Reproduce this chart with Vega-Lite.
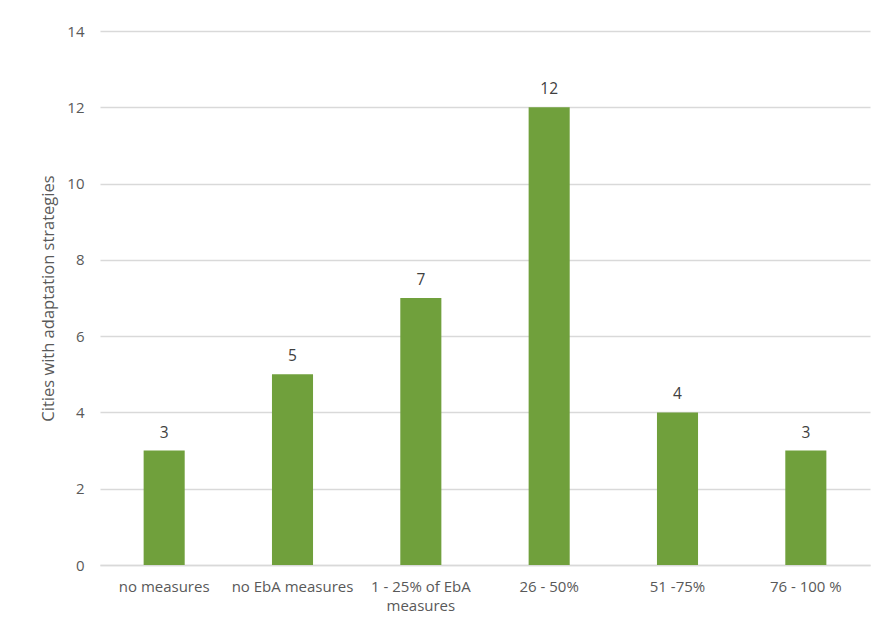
{
  "$schema": "https://vega.github.io/schema/vega-lite/v6.json",
  "width": 770,
  "height": 534,
  "autosize": "none",
  "padding": {"left": 100, "top": 31, "right": 9, "bottom": 65},
  "background": "white",
  "config": {
    "view": {"stroke": null},
    "font": "Open Sans",
    "axis": {"labelFont": "Open Sans", "titleFont": "Open Sans", "labelColor": "#595959", "titleColor": "#595959"}
  },
  "data": {
    "values": [
      {"category": "no measures", "cities": 3},
      {"category": "no EbA measures", "cities": 5},
      {"category": "1 - 25% of EbA measures", "cities": 7},
      {"category": "26 - 50%", "cities": 12},
      {"category": "51 -75%", "cities": 4},
      {"category": "76 - 100 %", "cities": 3}
    ]
  },
  "encoding": {
    "x": {
      "field": "category",
      "type": "nominal",
      "sort": null,
      "scale": {"paddingInner": 0.68, "paddingOuter": 0.34},
      "axis": {
        "title": null,
        "labelAngle": 0,
        "labelFontSize": 15,
        "labelPadding": 14,
        "labelLineHeight": 19,
        "ticks": false,
        "domainColor": "#d9d9d9",
        "domainWidth": 1.3,
        "labelExpr": "datum.value == '1 - 25% of EbA measures' ? ['1 - 25% of EbA', 'measures'] : datum.value"
      }
    },
    "y": {
      "field": "cities",
      "type": "quantitative",
      "scale": {"domain": [0, 14]},
      "axis": {
        "title": "Cities with adaptation strategies",
        "titleFontSize": 16.5,
        "titleFontWeight": "normal",
        "titlePadding": 10,
        "values": [0, 2, 4, 6, 8, 10, 12, 14],
        "labelFontSize": 15,
        "labelPadding": 16,
        "ticks": false,
        "domain": false,
        "gridColor": "#d9d9d9",
        "gridWidth": 1.3
      }
    }
  },
  "layer": [
    {"mark": {"type": "bar", "color": "#70a03c"}},
    {
      "mark": {"type": "text", "baseline": "bottom", "dy": -10, "fontSize": 15.5, "color": "#404040", "font": "Open Sans"},
      "encoding": {"text": {"field": "cities", "type": "quantitative"}}
    }
  ]
}
